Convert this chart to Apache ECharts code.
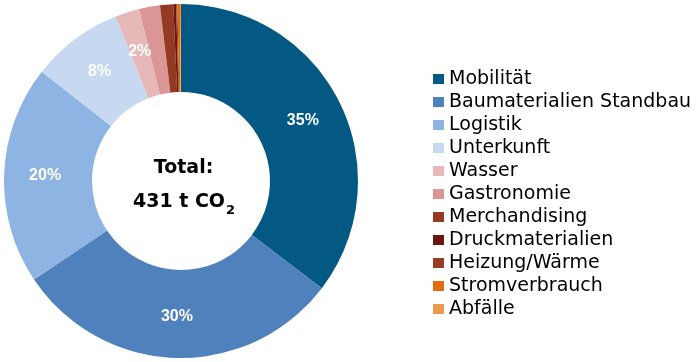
<!DOCTYPE html>
<html>
<head>
<meta charset="utf-8">
<script src="https://cdn.jsdelivr.net/npm/echarts@6/dist/echarts.min.js"></script>
<style>html,body{margin:0;padding:0;background:#fff;}#c{width:696px;height:362px;}</style>
</head>
<body>
<div id="c"></div>
<script>
// Data (t CO2), total 431 t
const categories = ['Mobilität','Baumaterialien Standbau','Logistik','Unterkunft','Wasser','Gastronomie','Merchandising','Druckmaterialien','Heizung/Wärme','Stromverbrauch','Abfälle'];
const values = [152.4, 130.4, 86.2, 36.2, 9.5, 8.2, 5.2, 1.1, 0.5, 1.0, 0.4];
const colors = ['#035983','#4F81BD','#8DB4E2','#C6D9F1','#E6B9B8','#D99694','#953A22','#6A1512','#963C20','#E46C0A','#EE9A4C'];
const labelledCount = 5; // only the five largest slices carry a percent label
const totalLines = ['Total:', '431 t CO', '2'];

const chart = echarts.init(document.getElementById('c'), null, {renderer: 'canvas'});
chart.setOption({
  animation: false,
  color: colors,
  legend: {
    orient: 'vertical',
    left: 428,
    top: 63.5,
    padding: 5,
    itemWidth: 11,
    itemHeight: 10,
    itemGap: 2,
    icon: 'rect',
    selectedMode: false,
    textStyle: {fontFamily: 'DejaVu Sans', fontSize: 19, color: '#000', lineHeight: 21, padding: [0,0,0,0]},
    data: categories
  },
  series: [{
    type: 'pie',
    center: [181, 181],
    radius: [89, 177],
    startAngle: 90,
    clockwise: true,
    avoidLabelOverlap: false,
    silent: true,
    itemStyle: {borderWidth: 0},
    label: {
      show: true,
      position: 'inside',
      color: '#fff',
      fontFamily: 'Liberation Sans',
      fontWeight: 'bold',
      fontSize: 16,
      formatter: p => p.dataIndex < labelledCount ? Math.round(p.percent) + '%' : ''
    },
    labelLine: {show: false},
    data: categories.map((n, i) => ({name: n, value: values[i]}))
  }],
  graphic: [{
    type: 'text',
    style: {
      text: totalLines[0],
      x: 183.5, y: 168.5,
      align: 'center', verticalAlign: 'middle',
      fontFamily: 'DejaVu Sans', fontWeight: 'bold', fontSize: 19, fill: '#000'
    }
  }, {
    type: 'text',
    style: {
      text: '{a|' + totalLines[1] + '}{b|' + totalLines[2] + '}',
      x: 184, y: 200.5,
      align: 'center', verticalAlign: 'middle',
      rich: {
        a: {fontFamily: 'DejaVu Sans', fontWeight: 'bold', fontSize: 19, fill: '#000', lineHeight: 22, verticalAlign: 'bottom'},
        b: {fontFamily: 'DejaVu Sans', fontWeight: 'bold', fontSize: 13, fill: '#000', lineHeight: 22, verticalAlign: 'bottom', padding: [0,0,-6,1]}
      }
    }
  }]
});
</script>
</body>
</html>
